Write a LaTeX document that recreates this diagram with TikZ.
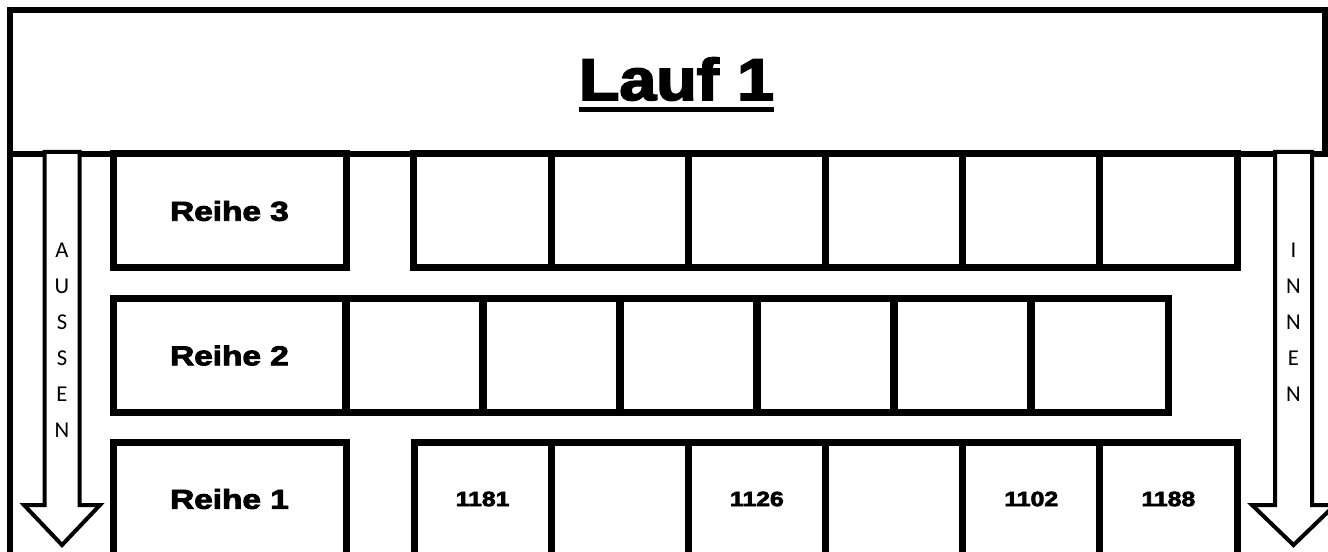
\documentclass[tikz,border=0pt]{standalone}
\usepackage{fontspec}
\usepackage{graphicx}
\newfontfamily\blackfont{Liberation Sans Bold}[FakeBold=3]
\newfontfamily\calfont{Carlito}
\newcommand\widetxt[2]{\scalebox{#1}[1]{#2}}
\begin{document}
\begin{tikzpicture}[x=0.75pt,y=-0.75pt,
  frame/.style={line width=4.5pt},
  box/.style={draw, line width=5.25pt, minimum height=85.5pt, inner sep=0pt, outer sep=0pt},
  lab/.style={box, minimum width=174.75pt, font=\blackfont\fontsize{20.5}{24}\selectfont},
  cell/.style={box, minimum width=102.9pt, font=\blackfont\fontsize{15.5}{18}\selectfont},
  arrowline/.style={draw, fill=white, line width=3pt, line join=miter},
  vtext/.style={font=\calfont\fontsize{17}{27}\selectfont, align=center, inner sep=0pt}
]
\useasboundingbox (0,0) rectangle (1328,552);
\clip (0,0) rectangle (1328,552);
\fill[white] (0,0) rectangle (1328,552);

% header
\node[draw, line width=4.5pt, minimum width=986.25pt, minimum height=108pt, inner sep=0pt, outer sep=0pt] (head) at (667.5,82) {};
\node[anchor=base, inner sep=0pt, font=\blackfont\fontsize{44}{50}\selectfont] (title) at (676.5,100) {\widetxt{1.13}{Lauf 1}};
\draw[line width=3.4pt] ([yshift=-7.1pt]title.base west) -- ([yshift=-7.1pt]title.base east);
\coordinate (fl) at (10,570);
\coordinate (dr) at (1340,154);
\draw[frame] (head.south west) -- (fl);
\draw[frame] (head.south east) -- (dr);

% row 3
\node[lab] (r3) at (229.5,211) {\widetxt{1.22}{Reihe 3}};
\foreach \i in {0,...,5}
  \node[cell] (c3\i) at ({414+137.17*(\i+0.5)},211) {};

% row 2
\node[lab] (r2) at (229.5,355.5) {\widetxt{1.22}{Reihe 2}};
\foreach \i in {0,...,5}
  \node[cell] (c2\i) at ({346+137*(\i+0.5)},355.5) {};

% row 1
\node[lab] (r1) at (229.5,499) {\widetxt{1.22}{Reihe 1}};
\node[cell] (c10) at (482.6,499) {\widetxt{1.2}{1181}};
\node[cell] (c11) at (619.8,499) {};
\node[cell] (c12) at (756.9,499) {\widetxt{1.2}{1126}};
\node[cell] (c13) at (894.1,499) {};
\node[cell] (c14) at (1031.3,499) {\widetxt{1.2}{1102}};
\node[cell] (c15) at (1168.4,499) {\widetxt{1.2}{1188}};

% arrows
\draw[arrowline] (44.5,152) -- (44.5,505) -- (24,505) -- (62,545) -- (100,505) -- (79.5,505) -- (79.5,152) -- cycle;
\node[vtext] (aussen) at (62,340) {A\\U\\S\\S\\E\\N};
\draw[arrowline] (1275,152) -- (1275,505) -- (1252,505) -- (1293.5,545) -- (1335,505) -- (1312,505) -- (1312,152) -- cycle;
\node[vtext] (innen) at (1293.5,322.5) {I\\N\\N\\E\\N};
\end{tikzpicture}
\end{document}
